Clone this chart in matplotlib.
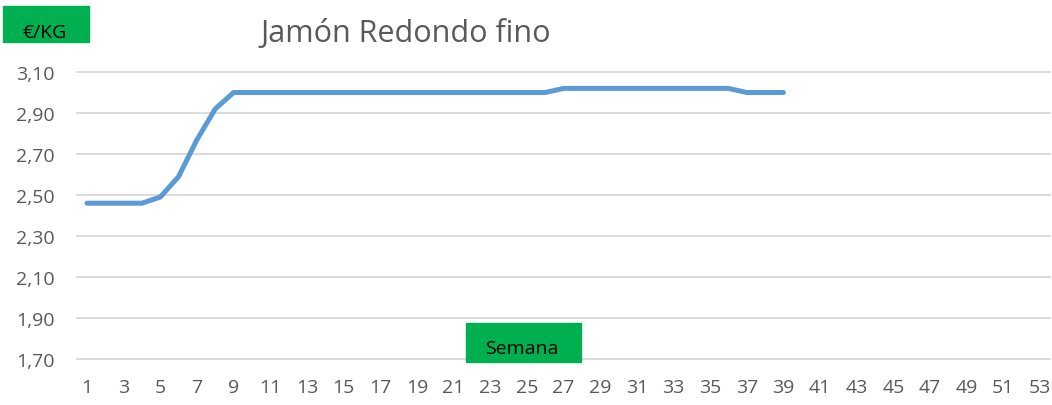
import matplotlib
matplotlib.use("Agg")
import matplotlib.pyplot as plt
from matplotlib.patches import Rectangle

weeks = list(range(1, 40))
prices = [2.46, 2.46, 2.46, 2.46, 2.49, 2.59, 2.77, 2.92, 3.00, 3.00,
          3.00, 3.00, 3.00, 3.00, 3.00, 3.00, 3.00, 3.00, 3.00, 3.00,
          3.00, 3.00, 3.00, 3.00, 3.00, 3.00, 3.02, 3.02, 3.02, 3.02,
          3.02, 3.02, 3.02, 3.02, 3.02, 3.02, 3.00, 3.00, 3.00]
x_ticks = list(range(1, 54, 2))
y_ticks = [1.70, 1.90, 2.10, 2.30, 2.50, 2.70, 2.90, 3.10]

plt.rcParams['font.family'] = ['Open Sans', 'DejaVu Sans']
W, H = 1052, 406
fig = plt.figure(figsize=(W/100, H/100), dpi=100)
ax = fig.add_axes([77/W, 1-360/H, (1050-77)/W, (360-73)/H])

ax.plot(weeks, prices, color='#5B9BD5', lw=3.6, solid_capstyle='round', solid_joinstyle='round', zorder=3)
ax.set_ylim(1.70, 3.10)
ax.set_xlim(1 - 10/18.346, 53 + 10/18.346)
ax.set_yticks(y_ticks)
ax.set_yticklabels([f"{v:.2f}".replace('.', ',') for v in y_ticks])
ax.set_xticks(x_ticks)
ax.set_xticklabels([str(v) for v in x_ticks])
ax.grid(axis='y', color='#D9D9D9', lw=1.3)
for g in ax.get_ygridlines():
    g.set_clip_on(False)
ax.tick_params(length=0, labelsize=14, colors='#595959')
ax.tick_params(axis='y', pad=16)
ax.tick_params(axis='x', pad=14)
for s in ax.spines.values():
    s.set_visible(False)

fig.text(406/W, 1-42/H, 'Jamón Redondo fino', ha='center', va='baseline', fontsize=22, color='#595959')

fig.patches.append(Rectangle((3/W, 1-43/H), 86/W, 36/H, transform=fig.transFigure, color='#00B050', zorder=1))
fig.text(45/W, 1-38/H, '€/KG', ha='center', va='baseline', fontsize=14, color='black')
fig.patches.append(Rectangle((466/W, 1-363/H), 115/W, 39/H, transform=fig.transFigure, color='#00B050', zorder=5))
fig.text(522/W, 1-354/H, 'Semana', ha='center', va='baseline', fontsize=14, color='black', zorder=6)

fig.savefig('out.png', dpi=100)
